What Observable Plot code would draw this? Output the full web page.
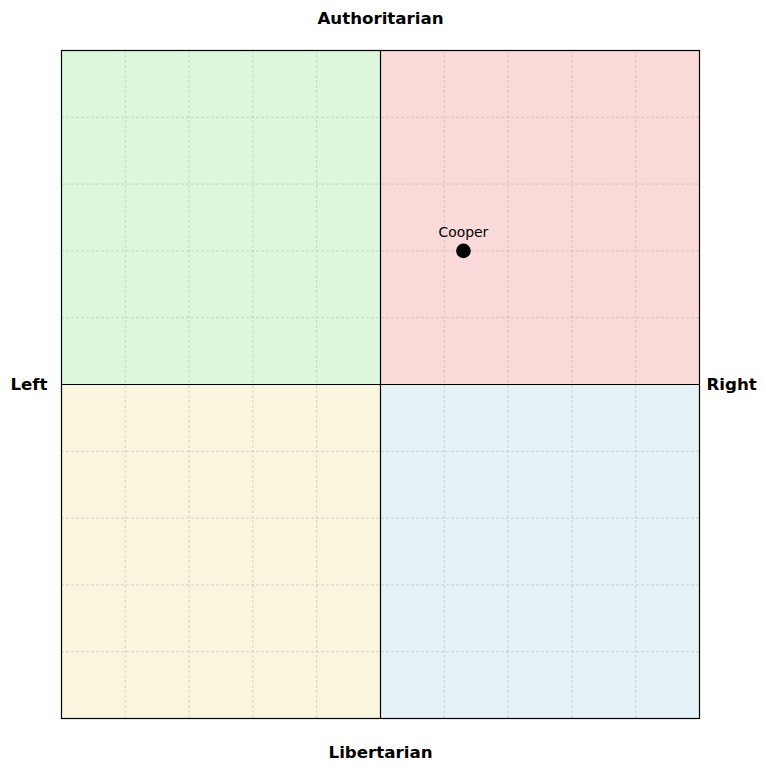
<!DOCTYPE html>
<html>
<head>
<meta charset="utf-8">
<script src="https://cdn.jsdelivr.net/npm/d3@7"></script>
<script src="https://cdn.jsdelivr.net/npm/@observablehq/plot@0.6"></script>
<style>
  html, body { margin: 0; padding: 0; background: #fff; }
</style>
</head>
<body>
<div id="chart"></div>
<script>
// Data
const names = ["Cooper"];
const econ = [2.6];
const social = [4.0];

const quadNames = ["AuthLeft", "AuthRight", "LibLeft", "LibRight"];
const quadX1 = [-10, 0, -10, 0];
const quadX2 = [0, 10, 0, 10];
const quadY1 = [0, 0, -10, -10];
const quadY2 = [10, 10, 0, 0];
const quadColors = ["#dcf8dc", "#fad9d9", "#faf6dd", "#e5f2f7"];

const gridTicks = [-8, -6, -4, -2, 0, 2, 4, 6, 8];

const points = names.map((n, i) => ({ name: n, x: econ[i], y: social[i] }));
const quads = quadNames.map((q, i) => ({ q, x1: quadX1[i], x2: quadX2[i], y1: quadY1[i], y2: quadY2[i], color: quadColors[i] }));

const chart = Plot.plot({
  width: 766,
  height: 769,
  marginLeft: 61,
  marginRight: 67,
  marginTop: 50,
  marginBottom: 51,
  x: { domain: [-10, 10], axis: null },
  y: { domain: [-10, 10], axis: null },
  style: { fontFamily: "DejaVu Sans", background: "#fff" },
  marks: [
    Plot.rect(quads, { x1: "x1", x2: "x2", y1: "y1", y2: "y2", fill: "color" }),
    Plot.ruleX(gridTicks, { stroke: "#a0a8a0", strokeOpacity: 0.7, strokeWidth: 0.6, strokeDasharray: "3,2" }),
    Plot.ruleY(gridTicks, { stroke: "#a0a8a0", strokeOpacity: 0.7, strokeWidth: 0.6, strokeDasharray: "3,2" }),
    Plot.ruleX([0], { stroke: "black", strokeWidth: 1.2 }),
    Plot.ruleY([0], { stroke: "black", strokeWidth: 1.2 }),
    Plot.frame({ stroke: "black", strokeWidth: 1.2 }),
    Plot.dot(points, { x: "x", y: "y", r: 7.3, fill: "black" }),
    Plot.text(points, { x: "x", y: "y", text: "name", dy: -18, fontSize: 13.9, fill: "black" }),
    Plot.text(["Authoritarian"], { frameAnchor: "top", dy: -38, fontSize: 16.67, fontWeight: "bold", fill: "black" }),
    Plot.text(["Libertarian"], { frameAnchor: "bottom", dy: 39, fontSize: 16.67, fontWeight: "bold", fill: "black" }),
    Plot.text(["Left"], { frameAnchor: "left", dx: -14, textAnchor: "end", fontSize: 16.67, fontWeight: "bold", fill: "black" }),
    Plot.text(["Right"], { frameAnchor: "right", dx: 7, textAnchor: "start", fontSize: 16.67, fontWeight: "bold", fill: "black" })
  ]
});
document.getElementById("chart").appendChild(chart);
</script>
</body>
</html>
